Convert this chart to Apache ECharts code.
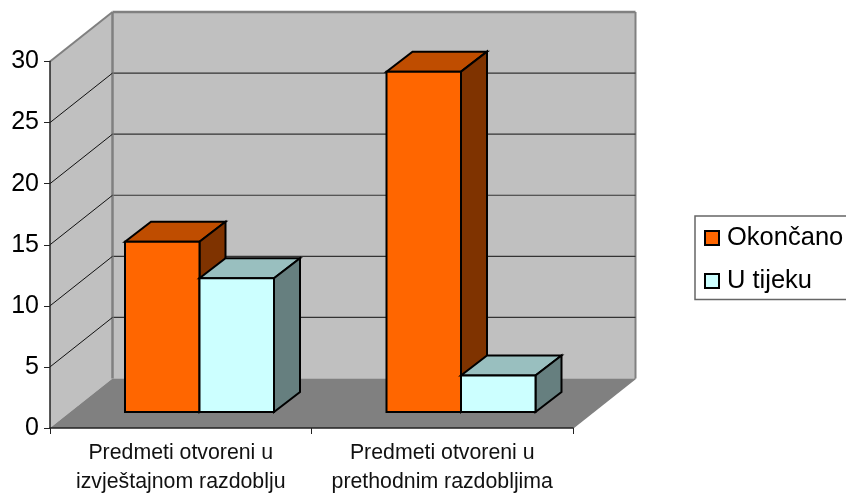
<!DOCTYPE html>
<html><head><meta charset="utf-8">
<style>html,body{margin:0;padding:0;background:#fff}#c{width:846px;height:493px}</style>
<script src="https://cdn.jsdelivr.net/npm/echarts@6/dist/echarts.min.js"></script>
</head><body><div id="c"></div>
<script>
const categories = ['Predmeti otvoreni u\nizvještajnom razdoblju', 'Predmeti otvoreni u\nprethodnim razdobljima'];
const okoncano = [14, 28];
const uTijeku = [11, 3];
const yTicks = [5, 10, 15, 20, 25];
const FONT = '"Liberation Sans", Arial, sans-serif';
// projection of depth, in pixels
const WALL = [62.5, -49.5], INSET = [19, -16], DEPTH = [26, -20], PLANE_SCALE = 0.995;
const GAP = 56 / 261.5, BAR = 74.5 / 261.5;
const EDGE = '#808080';

const chart = echarts.init(document.getElementById('c'));
const pt = (p, d, k = 1) => [p[0] + d[0] * k, p[1] + d[1] * k];

function wallsItem(params, api) {
  const a = api.coord([0, 0]), t = api.coord([0, 30]);
  const band = api.size([1, 0])[0];
  const o = [a[0] - band / 2, a[1]], ot = [o[0], t[1]];
  const e = [o[0] + band * categories.length, o[1]];
  const b = pt(o, WALL), bt = pt(ot, WALL), be = pt(e, WALL), bte = [be[0], bt[1]];
  const poly = (points, fill, stroke, lw) => ({ type: 'polygon', shape: { points }, style: { fill, stroke: stroke || fill, lineWidth: lw || 0 } });
  const line = (p, q, stroke, lw) => ({ type: 'line', shape: { x1: p[0], y1: p[1], x2: q[0], y2: q[1] }, style: { stroke, lineWidth: lw } });
  return { type: 'group', children: [
    poly([bt, bte, be, b], '#C0C0C0'),
    poly([ot, bt, b, o], '#C0C0C0'),
    poly([o, b, be, e], EDGE),
    line(ot, bt, EDGE, 2),
    line(bt, bte, EDGE, 2.5),
    line(bt, b, EDGE, 2.5),
    line(bte, be, EDGE, 2),
    line(be, e, EDGE, 1.5)
  ]};
}
function gridItem(params, api) {
  const p = api.coord([0, api.value(0)]);
  const band = api.size([1, 0])[0];
  const o = [p[0] - band / 2, p[1]];
  const b = pt(o, WALL), e = [b[0] + band * categories.length, b[1]];
  return { type: 'group', children: [
    { type: 'line', shape: { x1: o[0], y1: o[1], x2: b[0], y2: b[1] }, style: { stroke: '#111', lineWidth: 1 } },
    { type: 'line', shape: { x1: b[0] + 1, y1: b[1], x2: e[0], y2: e[1] }, style: { stroke: '#333', lineWidth: 1.2 } }
  ]};
}
function barItem(slot, front, top, side) {
  return function (params, api) {
    const c = api.value(0), v = api.value(1);
    const band = api.size([1, 0])[0];
    const base = api.coord([c, 0]), raw = api.coord([c, v]);
    const topY = base[1] + (raw[1] - base[1]) * PLANE_SCALE;
    const x0 = base[0] - band / 2 + band * GAP + band * BAR * slot;
    const x1 = x0 + band * BAR;
    const A = pt([x0, base[1]], INSET), B = pt([x1, base[1]], INSET);
    const C = pt([x1, topY], INSET), D = pt([x0, topY], INSET);
    const stroke = { stroke: '#000', lineWidth: 2, lineJoin: 'miter' };
    return { type: 'group', children: [
      { type: 'polygon', shape: { points: [D, C, pt(C, DEPTH), pt(D, DEPTH)] }, style: { fill: top, ...stroke } },
      { type: 'polygon', shape: { points: [B, C, pt(C, DEPTH), pt(B, DEPTH)] }, style: { fill: side, ...stroke } },
      { type: 'polygon', shape: { points: [A, B, C, D] }, style: { fill: front, ...stroke } }
    ]};
  };
}
const toPairs = arr => arr.map((v, i) => [i, v]);

chart.setOption({
  animation: false,
  backgroundColor: '#fff',
  grid: { left: 50, right: 273, top: 61.5, bottom: 65, containLabel: false, outerBoundsMode: 'none' },
  legend: {
    left: 695, top: 216, orient: 'vertical', backgroundColor: '#fff',
    borderColor: '#666', borderWidth: 1.5,
    padding: [9, 30, 5.5, 9], itemWidth: 14, itemHeight: 14, itemGap: 17,
    textStyle: { fontFamily: FONT, fontSize: 25.5, color: '#000', padding: [0, 0, 0, 3], lineHeight: 26 },
    data: [{ name: 'Okončano', icon: 'rect' }, { name: 'U tijeku', icon: 'rect' }]
  },
  xAxis: {
    type: 'category', data: categories, z: 5,
    axisLine: { lineStyle: { color: '#222', width: 1.5 } },
    axisTick: { show: true, alignWithLabel: false, length: 6, lineStyle: { color: '#222' } },
    axisLabel: { interval: 0, hideOverlap: false, fontFamily: FONT, fontSize: 21.3, color: '#111', lineHeight: 29, margin: 11 }
  },
  yAxis: {
    type: 'value', min: 0, max: 30, interval: 5, z: 5,
    splitLine: { show: false },
    axisLine: { show: true, lineStyle: { color: '#222', width: 1.5 } },
    axisTick: { show: true, length: 6, lineStyle: { color: '#222' } },
    axisLabel: { fontFamily: FONT, fontSize: 25, color: '#000', margin: 11, padding: [2, 0, 0, 0] }
  },
  series: [
    { type: 'custom', silent: true, z: 1, renderItem: wallsItem, data: [[0]], encode: { x: -1, y: -1 }, tooltip: { show: false } },
    { type: 'custom', silent: true, z: 2, renderItem: gridItem, data: yTicks.map(v => [v]), encode: { x: -1, y: -1 } },
    { name: 'Okončano', type: 'custom', z: 3, renderItem: barItem(0, '#FF6600', '#BF4D00', '#7F3300'), data: toPairs(okoncano),
      encode: { x: 0, y: 1 }, itemStyle: { color: '#FF6600', borderColor: '#000', borderWidth: 2 } },
    { name: 'U tijeku', type: 'custom', z: 3, renderItem: barItem(1, '#CCFFFF', '#99BFBF', '#667F7F'), data: toPairs(uTijeku),
      encode: { x: 0, y: 1 }, itemStyle: { color: '#CCFFFF', borderColor: '#000', borderWidth: 2 } }
  ]
});
</script></body></html>
